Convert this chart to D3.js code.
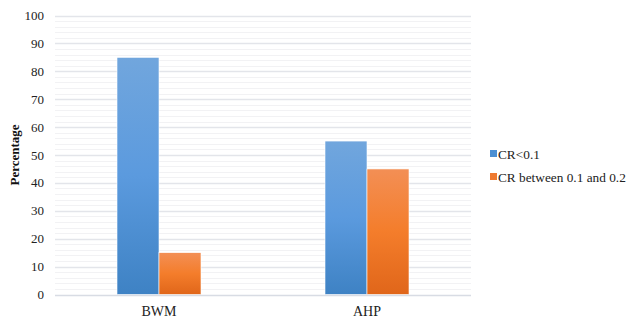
<!DOCTYPE html>
<html>
<head>
<meta charset="utf-8">
<script src="https://cdn.jsdelivr.net/npm/d3@7"></script>
<style>
  html, body { margin: 0; padding: 0; background: #fff; }
  svg { display: block; }
  svg text { font-family: "Liberation Serif", "Times New Roman", Times, "DejaVu Serif", serif; }
</style>
</head>
<body>
<svg id="chart" width="627" height="321"></svg>
<script>
// Share of comparisons by consistency ratio, per method
const categories = ["BWM", "AHP"];
const seriesNames = ["CR<0.1", "CR between 0.1 and 0.2"];
const crLow = [85, 55];
const crMid = [15, 45];
const yTicks = [0, 10, 20, 30, 40, 50, 60, 70, 80, 90, 100];

const seriesValues = [crLow, crMid];
const FONT = '"Liberation Serif", "Times New Roman", Times, serif';

const svg = d3.select("#chart");
const margin = { left: 55, right: 156, top: 15.5, bottom: 26.5 };
const W = 627, H = 321;

const x = d3.scaleBand().domain(categories).range([margin.left, W - margin.right]).paddingInner(0).paddingOuter(0);
const y = d3.scaleLinear().domain([0, 100]).range([H - margin.bottom, margin.top]);

// gradients
const defs = svg.append("defs");
const grads = [
  { id: "gBlue", top: "#71a6dd", mid: "#5b9ade", bot: "#3e82c4" },
  { id: "gOrange", top: "#f38f55", mid: "#f47d2b", bot: "#e0661a" }
];
grads.forEach(g => {
  const lgr = defs.append("linearGradient").attr("id", g.id).attr("x1", 0).attr("y1", 0).attr("x2", 0).attr("y2", 1);
  lgr.append("stop").attr("offset", "0%").attr("stop-color", g.top);
  lgr.append("stop").attr("offset", "50%").attr("stop-color", g.mid);
  lgr.append("stop").attr("offset", "100%").attr("stop-color", g.bot);
});
const swatch = ["#4a8fd3", "#ef7a30"];

// minor gridlines every 2
const minor = d3.range(2, 100, 2).filter(v => v % 10 !== 0);
svg.append("g").selectAll("line").data(minor).join("line")
  .attr("x1", margin.left).attr("x2", W - margin.right)
  .attr("y1", d => Math.round(y(d)) + 0.5).attr("y2", d => Math.round(y(d)) + 0.5)
  .attr("stroke", "#f2f2f4").attr("stroke-width", 1);

// major gridlines
svg.append("g").selectAll("line").data(yTicks.filter(v => v > 0)).join("line")
  .attr("x1", margin.left).attr("x2", W - margin.right)
  .attr("y1", d => Math.round(y(d)) + 0.5).attr("y2", d => Math.round(y(d)) + 0.5)
  .attr("stroke", "#e3e5ea").attr("stroke-width", 1.3);

// bars
const barW = 42;
seriesValues.forEach((vals, si) => {
  svg.append("g").selectAll("rect").data(categories).join("rect")
    .attr("x", (c) => x(c) + x.bandwidth() / 2 - barW + si * barW)
    .attr("width", barW)
    .attr("y", (c, i) => y(vals[i]))
    .attr("height", (c, i) => y(0) - y(vals[i]))
    .attr("fill", `url(#${grads[si].id})`)
    .attr("stroke", "#ffffff").attr("stroke-width", 0.6);
});

// baseline
svg.append("line")
  .attr("x1", margin.left).attr("x2", W - margin.right)
  .attr("y1", Math.round(y(0)) + 0.5).attr("y2", Math.round(y(0)) + 0.5)
  .attr("stroke", "#d8dce4").attr("stroke-width", 1.3);

// y tick labels
svg.append("g").selectAll("text").data(yTicks).join("text")
  .attr("x", 44).attr("y", d => y(d) + 4.5)
  .attr("text-anchor", "end").attr("font-family", FONT).attr("font-size", 13).attr("fill", "#222")
  .text(d => d);

// category labels
svg.append("g").selectAll("text").data(categories).join("text")
  .attr("x", c => x(c) + x.bandwidth() / 2).attr("y", 316)
  .attr("text-anchor", "middle").attr("font-family", FONT).attr("font-size", 14).attr("fill", "#222")
  .text(c => c);

// y axis title
svg.append("text")
  .attr("transform", `translate(19,${(y(0) + y(100)) / 2}) rotate(-90)`)
  .attr("text-anchor", "middle").attr("font-family", FONT).attr("font-size", 13).attr("font-weight", "bold").attr("fill", "#111")
  .text("Percentage");

// legend
const lg = svg.append("g");
seriesNames.forEach((name, i) => {
  const ly = 154 + i * 23;
  lg.append("rect").attr("x", 490).attr("y", ly - 4).attr("width", 7).attr("height", 7).attr("fill", swatch[i]);
  lg.append("text").attr("x", 498).attr("y", ly + 4.5)
    .attr("font-family", FONT).attr("font-size", 13.3).attr("fill", "#222").text(name);
});
</script>
</body>
</html>
